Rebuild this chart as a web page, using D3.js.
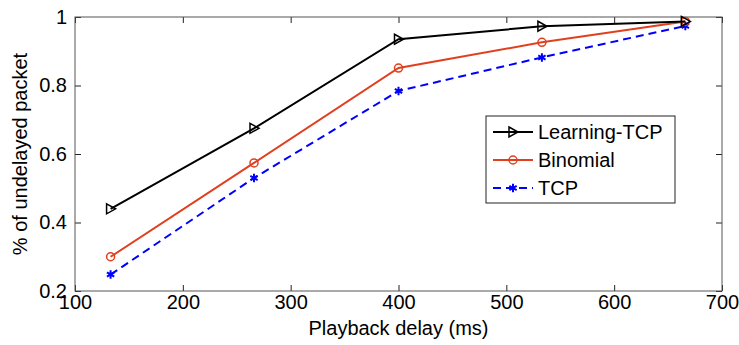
<!DOCTYPE html>
<html>
<head>
<meta charset="utf-8">
<script src="https://cdn.jsdelivr.net/npm/d3@7"></script>
<style>
  body { margin: 0; background: #fff; }
  text { font-family: Arial, "Liberation Sans", sans-serif; }
</style>
</head>
<body>
<div class="main"></div>
<script>
// dados
var delays      = [133, 266, 400, 533, 666];
var learningTcp = [0.44, 0.675, 0.935, 0.973, 0.987];
var binomial    = [0.30, 0.574, 0.851, 0.926, 0.987];
var tcp         = [0.248, 0.53, 0.784, 0.882, 0.974];
var seriesNames = ['Learning-TCP', 'Binomial', 'TCP'];
var xTicks = [100, 200, 300, 400, 500, 600, 700];
var yTicks = [0.2, 0.4, 0.6, 0.8, 1];

var W = 739, H = 345;
var mLeft = 75, mRight = 722, mTop = 17, mBottom = 291;
var fs = 20;

var svg = d3.select('.main').append('svg')
    .attr('width', W).attr('height', H);

var x = d3.scaleLinear().domain([100, 700]).range([mLeft, mRight]);
var y = d3.scaleLinear().domain([0.2, 1]).range([mBottom, mTop]);

// eixos (ticks para dentro, estilo matlab)
function styleAxis(g) {
    g.select('.domain').remove();
    g.selectAll('.tick line').attr('stroke', '#222');
    g.selectAll('.tick text').attr('font-size', fs).attr('fill', '#000');
}
svg.append('g').attr('transform', 'translate(0,' + mBottom + ')')
    .call(d3.axisBottom(x).tickValues(xTicks).tickSize(-6).tickPadding(4).tickFormat(d3.format('d')))
    .call(styleAxis);
svg.append('g').attr('transform', 'translate(0,' + mTop + ')')
    .call(d3.axisTop(x).tickValues(xTicks).tickSize(-6).tickFormat(''))
    .call(styleAxis);
svg.append('g').attr('transform', 'translate(' + mLeft + ',0)')
    .call(d3.axisLeft(y).tickValues(yTicks).tickSize(-6).tickPadding(8).tickFormat(d => d === 1 ? '1' : d3.format('.1f')(d)))
    .call(styleAxis);
svg.append('g').attr('transform', 'translate(' + mRight + ',0)')
    .call(d3.axisRight(y).tickValues(yTicks).tickSize(-6).tickFormat(''))
    .call(styleAxis);

svg.append('rect')
    .attr('x', mLeft).attr('y', mTop)
    .attr('width', mRight - mLeft).attr('height', mBottom - mTop)
    .attr('fill', 'none').attr('stroke', '#555').attr('stroke-width', 1);

// rotulos dos eixos
svg.append('text')
    .attr('x', (mLeft + mRight) / 2).attr('y', 335)
    .attr('text-anchor', 'middle').attr('font-size', fs)
    .text('Playback delay (ms)');
svg.append('text')
    .attr('transform', 'translate(27,' + (mTop + mBottom) / 2 + ') rotate(-90)')
    .attr('text-anchor', 'middle').attr('font-size', fs)
    .text('% of undelayed packet');

// marcadores
var triRight = 'M-4,-5L5,0L-4,5Z';
function marker(g, kind, color) {
    if (kind === 'tri') {
        g.append('path').attr('d', triRight)
            .attr('fill', 'none').attr('stroke', color).attr('stroke-width', 1.5);
    } else if (kind === 'circ') {
        g.append('circle').attr('r', 4)
            .attr('fill', 'none').attr('stroke', color).attr('stroke-width', 1.5);
    } else {
        g.append('path').attr('d', d3.symbol(d3.symbolAsterisk, 50)())
            .attr('fill', 'none').attr('stroke', color).attr('stroke-width', 2);
    }
}

var series = [
    {name: seriesNames[0], vals: learningTcp, color: '#000000', dash: null, mk: 'tri'},
    {name: seriesNames[1], vals: binomial, color: '#e0401e', dash: null, mk: 'circ'},
    {name: seriesNames[2], vals: tcp, color: '#0000ff', dash: '8,5', mk: 'star'}
];

var line = d3.line().x(d => x(d[0])).y(d => y(d[1]));

// desenha do ultimo para o primeiro (preto por cima)
series.slice().reverse().forEach(function(s) {
    var pts = delays.map((d, i) => [d, s.vals[i]]);
    svg.append('path').datum(pts)
        .attr('d', line)
        .attr('fill', 'none')
        .attr('stroke', s.color)
        .attr('stroke-width', 2)
        .attr('stroke-dasharray', s.dash);
    pts.forEach(function(p) {
        var g = svg.append('g').attr('transform', 'translate(' + x(p[0]) + ',' + y(p[1]) + ')');
        marker(g, s.mk, s.color);
    });
});

// legenda
var lg = svg.append('g').attr('transform', 'translate(486,116)');
lg.append('rect').attr('width', 189).attr('height', 87)
    .attr('fill', '#fff').attr('stroke', '#222').attr('stroke-width', 1);
series.forEach(function(s, i) {
    var cy = 16 + i * 28;
    lg.append('line')
        .attr('x1', 7).attr('x2', 47).attr('y1', cy).attr('y2', cy)
        .attr('stroke', s.color).attr('stroke-width', 2)
        .attr('stroke-dasharray', s.dash);
    var g = lg.append('g').attr('transform', 'translate(27,' + cy + ')');
    marker(g, s.mk, s.color);
    lg.append('text')
        .attr('x', 52).attr('y', cy + 7)
        .attr('font-size', fs)
        .text(s.name);
});
</script>
</body>
</html>
